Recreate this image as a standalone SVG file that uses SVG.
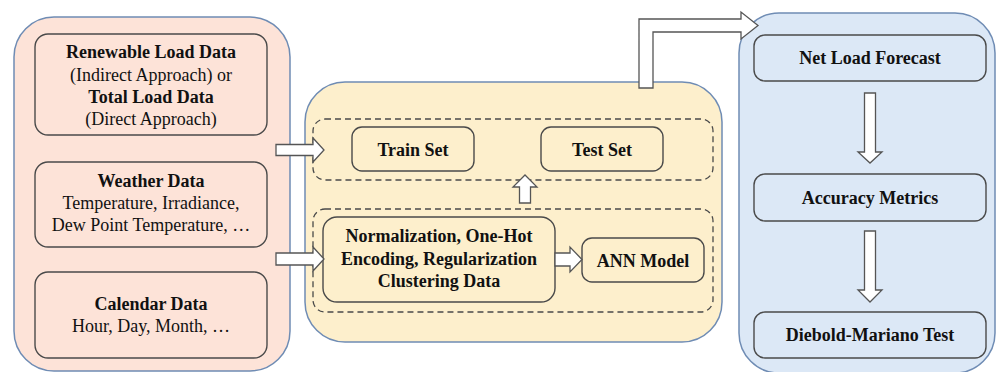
<svg xmlns="http://www.w3.org/2000/svg" width="997" height="372" viewBox="0 0 997 372">
  <style>
    .panel { stroke: #6f8cb4; stroke-width: 1.5; }
    .box { stroke: #4a4a4a; stroke-width: 1.4; }
    .dash { fill: none; stroke: #4a4a4a; stroke-width: 1.3; stroke-dasharray: 6 4; }
    .arrow { fill: #ffffff; stroke: #555555; stroke-width: 1.3; stroke-linejoin: miter; }
    text { font-family: "Liberation Serif", "Times New Roman", serif; font-size: 18px; fill: #111111; text-anchor: middle; }
    .b { font-weight: bold; }
  </style>

  <!-- Inputs panel -->
  <g id="inputs">
    <rect class="panel" x="14" y="17" width="276" height="354" rx="40" fill="#fde3d8"/>
  </g>
  <g id="load-data">
    <rect class="box" x="35" y="34" width="232" height="101" rx="13" fill="#fde3d8"/>
    <text class="b" x="151" y="58">Renewable Load Data</text>
    <text x="151" y="81">(Indirect Approach) or</text>
    <text class="b" x="151" y="103">Total Load Data</text>
    <text x="151" y="125">(Direct Approach)</text>
  </g>
  <g id="weather-data">
    <rect class="box" x="35" y="162" width="232" height="85" rx="13" fill="#fde3d8"/>
    <text class="b" x="151" y="187">Weather Data</text>
    <text x="151" y="209">Temperature, Irradiance,</text>
    <text x="151" y="231">Dew Point Temperature, …</text>
  </g>
  <g id="calendar-data">
    <rect class="box" x="35" y="272" width="232" height="86" rx="13" fill="#fde3d8"/>
    <text class="b" x="151" y="310">Calendar Data</text>
    <text x="151" y="332">Hour, Day, Month, …</text>
  </g>

  <!-- Modelling panel -->
  <g id="modelling">
    <rect class="panel" x="305" y="82" width="417" height="260" rx="40" fill="#fdefcc"/>
    <rect class="dash" x="313" y="119" width="400" height="61" rx="12"/>
    <rect class="dash" x="313" y="209" width="400" height="103" rx="12"/>
  </g>
  <g id="train-set">
    <rect class="box" x="352" y="127" width="122" height="44" rx="10" fill="#fdefcc"/>
    <text class="b" x="413" y="156">Train Set</text>
  </g>
  <g id="test-set">
    <rect class="box" x="541" y="127" width="122" height="44" rx="10" fill="#fdefcc"/>
    <text class="b" x="602" y="156">Test Set</text>
  </g>
  <g id="preprocessing">
    <rect class="box" x="323" y="217" width="232" height="85" rx="14" fill="#fdefcc"/>
    <text class="b" x="439" y="242">Normalization, One-Hot</text>
    <text class="b" x="439" y="265">Encoding, Regularization</text>
    <text class="b" x="439" y="287">Clustering Data</text>
  </g>
  <g id="ann-model">
    <rect class="box" x="582" y="238" width="122" height="44" rx="10" fill="#fdefcc"/>
    <text class="b" x="643" y="267">ANN Model</text>
  </g>

  <!-- Evaluation panel -->
  <g id="evaluation">
    <rect class="panel" x="739" y="13" width="256" height="360" rx="40" fill="#dce8f6"/>
  </g>
  <g id="net-load-forecast">
    <rect class="box" x="754" y="35" width="232" height="46" rx="11" fill="#dce8f6"/>
    <text class="b" x="870" y="64">Net Load Forecast</text>
  </g>
  <g id="accuracy-metrics">
    <rect class="box" x="754" y="174" width="232" height="47" rx="11" fill="#dce8f6"/>
    <text class="b" x="870" y="204">Accuracy Metrics</text>
  </g>
  <g id="diebold-mariano">
    <rect class="box" x="754" y="312" width="232" height="46" rx="11" fill="#dce8f6"/>
    <text class="b" x="870" y="341">Diebold-Mariano Test</text>
  </g>

  <!-- Block arrows -->
  <g id="connectors">
    <polygon class="arrow" points="276,144.5 313,144.5 313,138 324,150 313,162 313,155.5 276,155.5"/>
    <polygon class="arrow" points="276,253 313,253 313,247 324,259 313,271 313,265 276,265"/>
    <polygon class="arrow" points="519.5,203 519.5,187 513,187 525,175 537,187 530.5,187 530.5,203"/>
    <polygon class="arrow" points="555,253 570,253 570,247 582,259.5 570,272 570,266 555,266"/>
    <polygon class="arrow" points="639,88 639,19 741,19 741,12 758,25.5 741,39 741,32 653,32 653,88"/>
    <polygon class="arrow" points="864.5,93 875.5,93 875.5,152 882,152 870,163 858,152 864.5,152"/>
    <polygon class="arrow" points="864.5,231 875.5,231 875.5,290 882,290 870,302 858,290 864.5,290"/>
  </g>
</svg>
